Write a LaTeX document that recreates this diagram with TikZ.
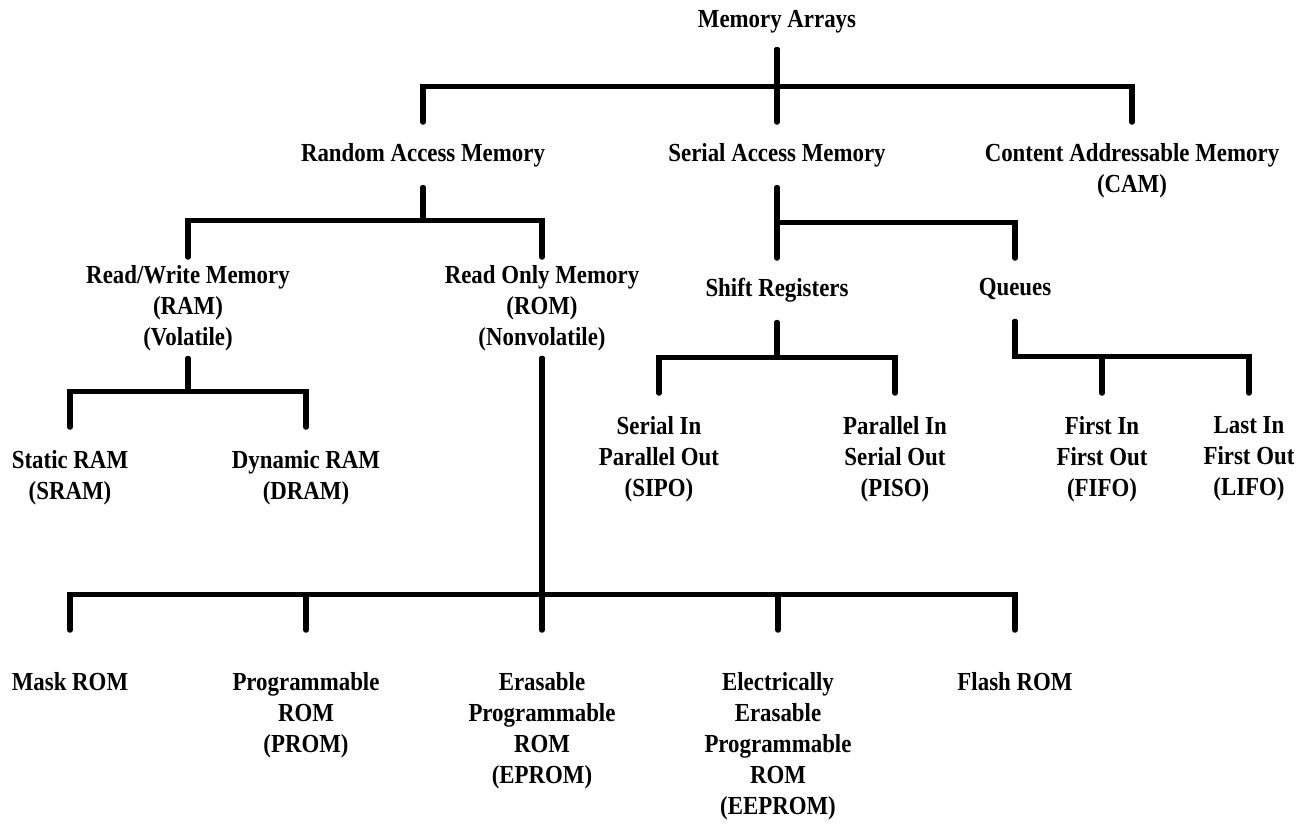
\documentclass[tikz,border=0pt]{standalone}
\usepackage{fontspec}
\setmainfont{Liberation Serif}[FakeStretch=0.88]
\usetikzlibrary{backgrounds}

\begin{document}
\begin{tikzpicture}[x=1pt, y=-1pt, show background rectangle,
    background rectangle/.style={fill=white}, inner frame sep=0pt]
      \tikzstyle{every node}=[font=\fontsize{26}{31}\selectfont\bfseries, align=center, inner sep=0pt]
      \tikzstyle{oneline}=[text depth=5.7pt]
      \tikzstyle{wire}=[line width=5.5pt, line cap=round]
      \useasboundingbox (0,0) rectangle (1310,825);

      \node[oneline, anchor=base, outer ysep=17pt] (ma) at (777,27) {Memory Arrays};

      \node[oneline, anchor=north, outer ysep=21pt] (ram) at (423,122)  {Random Access Memory};
      \node[oneline, anchor=north, outer ysep=21pt] (sam) at (777,122)  {Serial Access Memory};
      \node[anchor=north, outer ysep=21pt] (cam) at (1132,122) {Content Addressable Memory\\(CAM)};

      \node[anchor=north, outer ysep=8pt] (rw)  at (188,257) {Read/Write Memory\\(RAM)\\(Volatile)};
      \node[anchor=north, outer ysep=8pt] (rom) at (542,257) {Read Only Memory\\(ROM)\\(Nonvolatile)};
      \node[oneline, anchor=north, outer ysep=20.3pt] (shift)  at (777,258)  {Shift Registers};
      \node[oneline, anchor=north, outer ysep=20.3pt] (queues) at (1015,258) {Queues};

      \node[anchor=north, outer ysep=23.5pt] (sram) at (70,427)   {Static RAM\\(SRAM)};
      \node[anchor=north, outer ysep=23.5pt] (dram) at (306,427)  {Dynamic RAM\\(DRAM)};
      \node[anchor=north, outer ysep=23.5pt] (sipo) at (659,393)  {Serial In\\Parallel Out\\(SIPO)};
      \node[anchor=north, outer ysep=23.5pt] (piso) at (895,393)  {Parallel In\\Serial Out\\(PISO)};
      \node[anchor=north, outer ysep=23.5pt] (fifo) at (1102,393) {First In\\First Out\\(FIFO)};
      \node[anchor=north, outer ysep=23.5pt] (lifo) at (1249,393) {Last In\\First Out\\(LIFO)};

      \node[anchor=north, outer ysep=42pt] (mask)   at (70,630)   {Mask ROM};
      \node[anchor=north, outer ysep=42pt] (prom)   at (306,630)  {Programmable\\ROM\\(PROM)};
      \node[anchor=north, outer ysep=42pt] (eprom)  at (542,630)  {Erasable\\Programmable\\ROM\\(EPROM)};
      \node[anchor=north, outer ysep=42pt] (eeprom) at (778,630)  {Electrically\\Erasable\\Programmable\\ROM\\(EEPROM)};
      \node[anchor=north, outer ysep=42pt] (flash)  at (1015,630) {Flash ROM};

      \foreach \c in {ram,sam,cam}
        \draw[wire] (ma.south) -- ++(0,37) -| (\c.north);
      \foreach \c in {rw,rom}
        \draw[wire] (ram.south) -- ++(0,33) -| (\c.north);
      \foreach \c in {shift,queues}
        \draw[wire] (sam.south) -- ++(0,35) -| (\c.north);
      \foreach \c in {sram,dram}
        \draw[wire] (rw.south) -- ++(0,33) -| (\c.north);
      \foreach \c in {sipo,piso}
        \draw[wire] (shift.south) -- ++(0,35) -| (\c.north);
      \foreach \c in {fifo,lifo}
        \draw[wire] (queues.south) -- ++(0,35) -| (\c.north);
      \foreach \c in {mask,prom,eprom,eeprom,flash}
        \draw[wire] (rom.south) -- ++(0,236) -| (\c.north);
\end{tikzpicture}
\end{document}
